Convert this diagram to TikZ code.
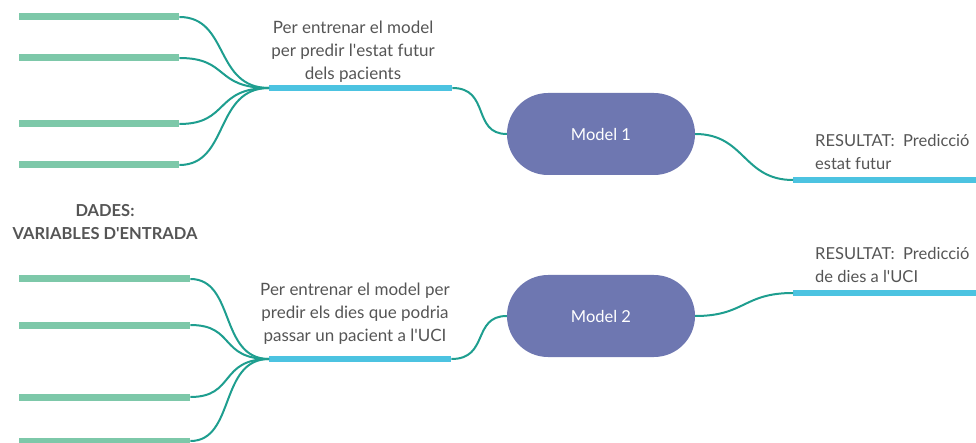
\documentclass[tikz,border=0pt]{standalone}
\usepackage{fontspec}
\setmainfont{Lato}
\usetikzlibrary{shapes.misc}
\definecolor{barGreen}{HTML}{7DC8A9}
\definecolor{barBlue}{HTML}{4CC3E1}
\definecolor{linkTeal}{HTML}{1E9E8F}
\definecolor{pillFill}{HTML}{6E77B1}
\definecolor{txtGray}{HTML}{555555}
\newcommand{\apos}{\textquotesingle}
\tikzset{
  inbar/.style={fill=barGreen, minimum height=7pt, inner sep=0pt, anchor=west},
  midbar/.style={fill=barBlue, minimum width=183pt, minimum height=6pt, inner sep=0pt, anchor=west},
  outbar/.style={fill=barBlue, minimum width=190pt, minimum height=6pt, inner sep=0pt, anchor=west},
  link/.style={draw=linkTeal, line width=2pt},
  pill/.style={rounded rectangle, fill=pillFill, minimum width=188pt, minimum height=82pt,
    inner sep=0pt, text=white, font=\fontsize{16.5}{18}\selectfont},
  note/.style={text=txtGray, align=center, font=\fontsize{17}{23}\selectfont, inner sep=0pt},
  rnote/.style={text=txtGray, align=left, font=\fontsize{16.5}{23}\selectfont, inner sep=0pt, anchor=north west}
}
\begin{document}
\begin{tikzpicture}[x=1pt,y=-1pt]
\useasboundingbox (0,0) rectangle (976,443);
\clip (0,0) rectangle (976,443);

% ---- upper branch: inputs feeding model 1
\node[inbar, minimum width=160pt] (a1) at (19,17) {};
\node[inbar, minimum width=160pt] (a2) at (19,58) {};
\node[inbar, minimum width=160pt] (a3) at (19,124) {};
\node[inbar, minimum width=160pt] (a4) at (19,165) {};
\node[midbar] (ta) at (269,88) {};
\node[note, anchor=south] (la) at (353,83) {Per entrenar el model\\per predir l\apos estat futur\\dels pacients};
\node[pill] (m1) at (601,134) {Model 1};
\node[outbar] (ra) at (793,180) {};
\node[rnote] (rla) at (815,134) {RESULTAT:\ \ Predicció\\estat futur};

\foreach \i in {a1,a2,a3,a4}
  \draw[link] (\i.east) .. controls +(50,0) and +(-55,0) .. (ta.west);
\draw[link] (ta.east) .. controls +(38,0) and +(-35,0) .. (m1.west);
\draw[link] (m1.east) .. controls +(50,0) and +(-50,0) .. (ra.west);

% ---- caption between the two branches
\node[text=txtGray, align=center, font=\bfseries\fontsize{16.5}{23}\selectfont, inner sep=0pt] (dd) at (105,222) {DADES:\\VARIABLES D\apos ENTRADA};

% ---- lower branch: inputs feeding model 2
\node[inbar, minimum width=171pt] (b1) at (19,279) {};
\node[inbar, minimum width=171pt] (b2) at (19,325) {};
\node[inbar, minimum width=171pt] (b3) at (19,397) {};
\node[inbar, minimum width=171pt] (b4) at (19,441) {};
\node[midbar, minimum width=182pt] (tb) at (269,359) {};
\node[note, anchor=south] (lb) at (355,345) {Per entrenar el model per\\predir els dies que podria\\passar un pacient a l\apos UCI};
\node[pill] (m2) at (601,316) {Model 2};
\node[outbar] (rb) at (793,293) {};
\node[rnote] (rlb) at (815,247) {RESULTAT:\ \ Predicció\\de dies a l\apos UCI};

\foreach \i in {b1,b2,b3,b4}
  \draw[link] (\i.east) .. controls +(45,0) and +(-50,0) .. (tb.west);
\draw[link] (tb.east) .. controls +(38,0) and +(-35,0) .. (m2.west);
\draw[link] (m2.east) .. controls +(50,0) and +(-50,0) .. (rb.west);
\end{tikzpicture}
\end{document}
